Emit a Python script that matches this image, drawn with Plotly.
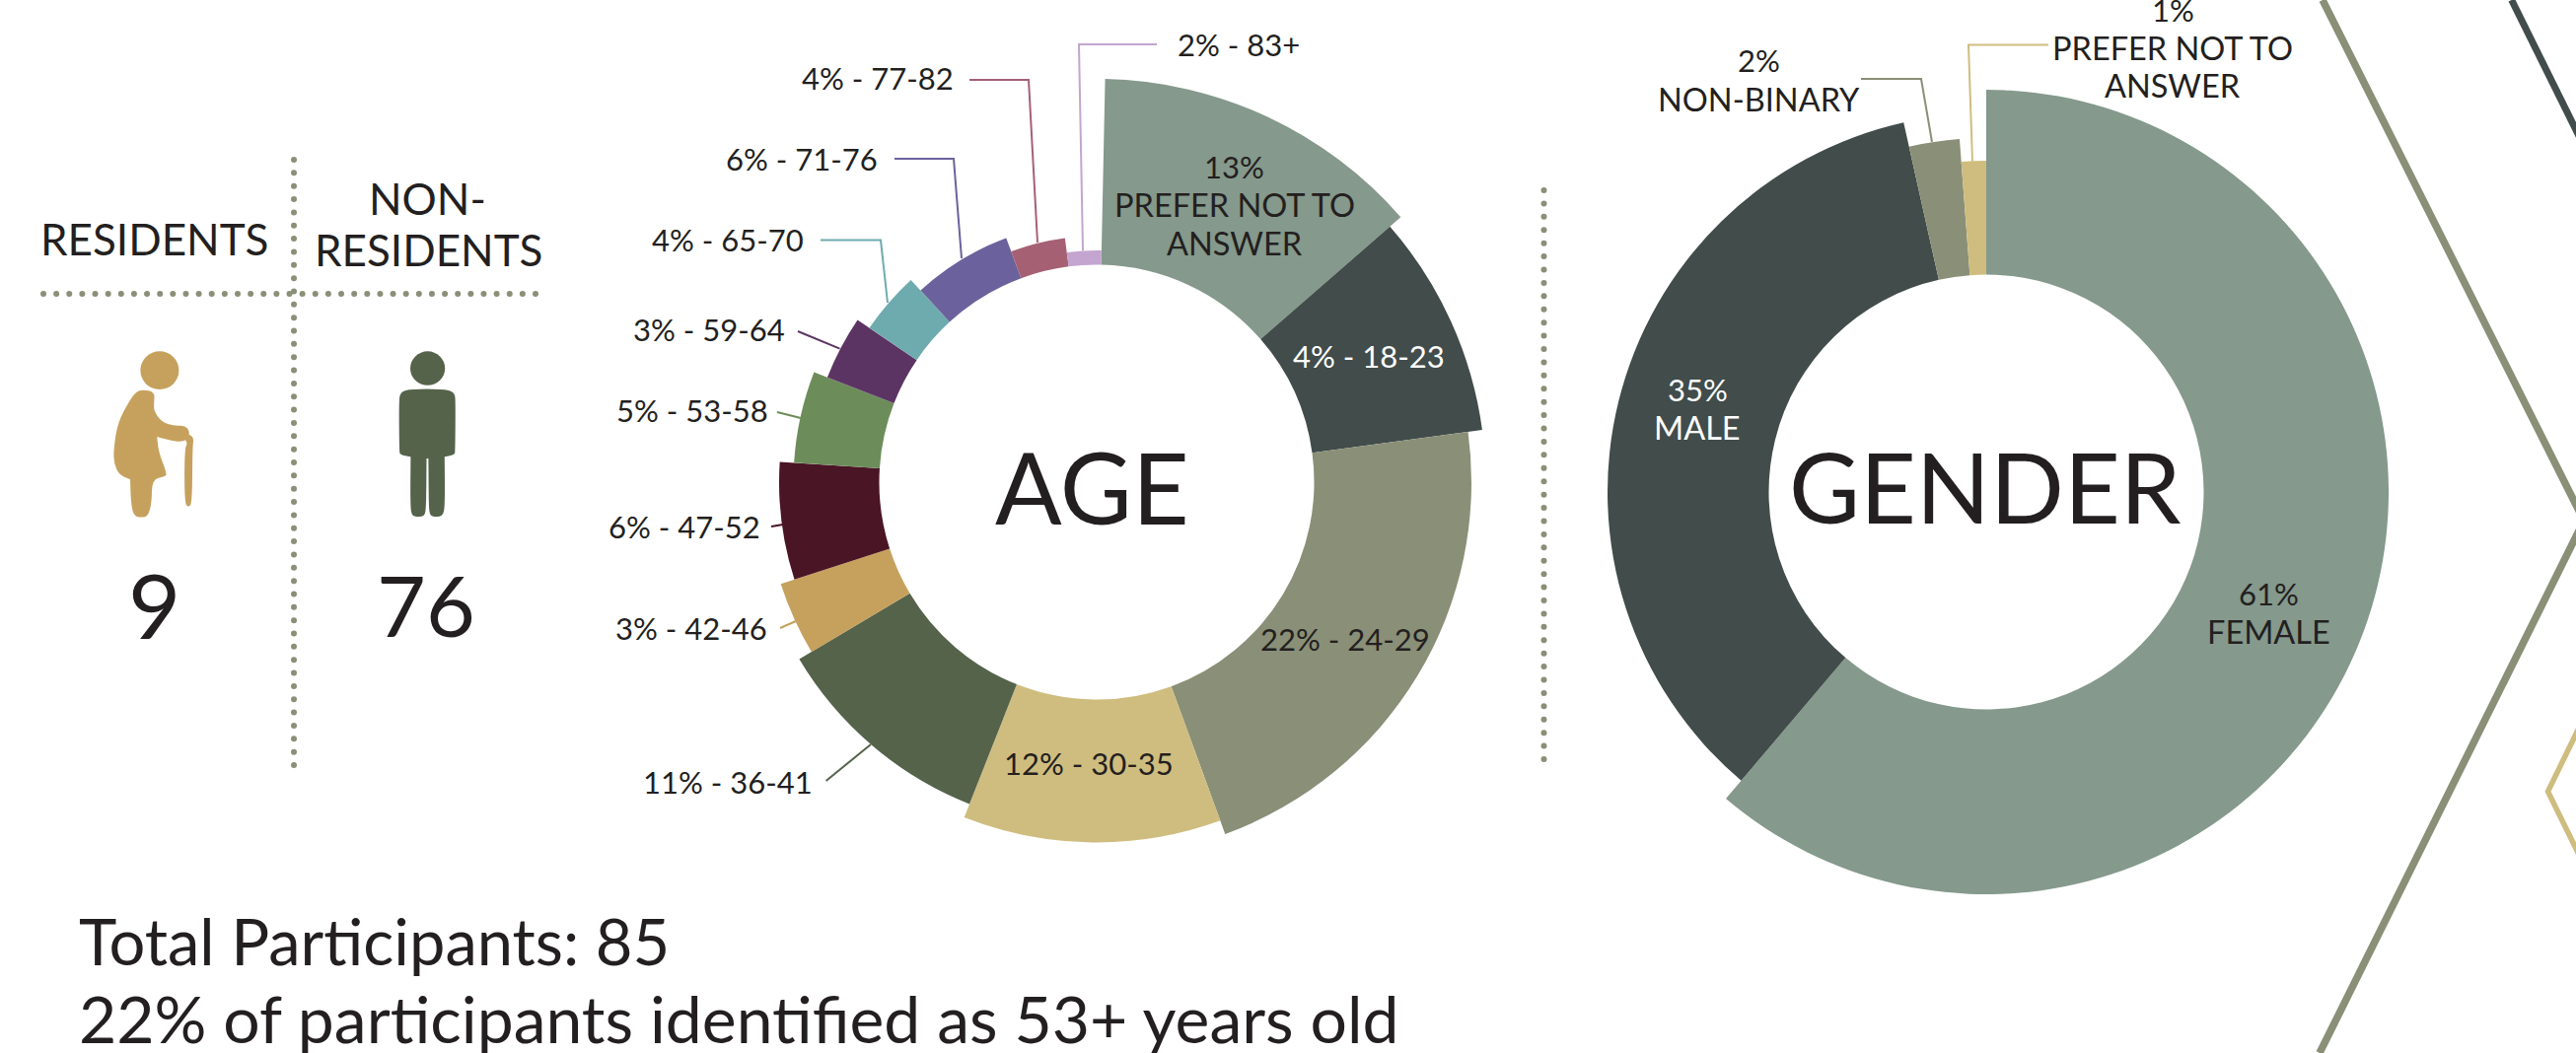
import math
import plotly.graph_objects as go

# ---------- data ----------
age_groups = ["PREFER NOT TO ANSWER", "18-23", "24-29", "30-35", "36-41", "42-46", "47-52",
              "53-58", "59-64", "65-70", "71-76", "77-82", "83+"]
age_pct_labels = [13, 4, 22, 12, 11, 3, 6, 5, 3, 4, 6, 4, 2]
age_shares = [13.3, 9.3, 21.65, 11.6, 10.5, 3.6, 6.0, 4.9, 3.6, 3.7, 6.2, 3.6, 2.4]

gender_groups = ["FEMALE", "MALE", "NON-BINARY", "PREFER NOT TO ANSWER"]
gender_pct_labels = [61, 35, 2, 1]
gender_shares = [61.2, 35.3, 2.3, 1.2]

resident_groups = ["RESIDENTS", "NON-RESIDENTS"]
resident_counts = [9, 76]
total_participants = 85
older_share = 22

# ---------- style and layout ----------
W, H = 2612, 1068
FONT = "Lato"
INK = "#231f20"
OLIVE = "#8a8f77"
DARK = "#414c4b"
age_colors = ["#85998c", "#414c4b", "#8a8f77", "#cfbd7f", "#55634b", "#c6a15d", "#4a1525",
              "#6c8d5a", "#5c3463", "#6eabae", "#6b629d", "#a66074", "#c3a5d0"]
gender_colors = ["#85998c", "#414c4b", "#8a8f77", "#cfbd7f"]
age_outer = [409 - 14.5 * i for i in range(len(age_groups))]
gender_outer = [408, 384, 359, 336]
HOLE = 220.5
R_AXIS = 430
AGE_C = (1112, 489)
GEN_C = (2014, 499)
AGE_START = 1.2
NUM = 31
CAPS = 32.5


def wedge(shares, outer, colors):
    total = sum(shares)
    spans = [s / total * 360 for s in shares]
    mids, acc = [], 0
    for sp in spans:
        mids.append(acc + sp / 2)
        acc += sp
    return dict(r=[o - HOLE for o in outer], base=[HOLE] * len(outer), theta=mids, width=spans,
                marker=dict(color=colors, line=dict(width=0)), hoverinfo="skip", showlegend=False)


fig = go.Figure()
fig.add_trace(go.Barpolar(subplot="polar", **wedge(age_shares, age_outer, age_colors)))
fig.add_trace(go.Barpolar(subplot="polar2", **wedge(gender_shares, gender_outer, gender_colors)))


def line(xs, ys, color, width):
    fig.add_trace(go.Scatter(x=xs, y=ys, mode="lines", line=dict(color=color, width=width),
                             hoverinfo="skip", showlegend=False, xaxis="x", yaxis="y"))


def dots(x0, y0, x1, y1, step=13.3):
    n = int(round(math.hypot(x1 - x0, y1 - y0) / step))
    xs = [x0 + (x1 - x0) * i / n for i in range(n + 1)]
    ys = [y0 + (y1 - y0) * i / n for i in range(n + 1)]
    fig.add_trace(go.Scatter(x=xs, y=ys, mode="markers",
                             marker=dict(color=OLIVE, size=6, line=dict(width=0)),
                             hoverinfo="skip", showlegend=False, xaxis="x", yaxis="y"))


# dotted dividers
dots(298, 162, 298, 776)
dots(44, 298, 543, 298)
dots(1565.5, 193, 1565.5, 770)

# chevrons at right
line([2355, 2620, 2352], [0, 528, 1068], OLIVE, 7.5)
line([2546.7, 2620], [0, 148], DARK, 7)
line([2620, 2583.5, 2620], [728, 802.7, 877], age_colors[3], 5.5)

# leader lines
age_leaders = {
    12: ([1173, 1094, 1098], [45, 45, 254]),
    11: ([983, 1043, 1052], [81, 81, 246]),
    10: ([907, 967, 975], [161, 161, 262]),
    9: ([832, 893, 900], [243.6, 243.6, 307]),
    8: ([809, 851.5], [336, 353.6]),
    7: ([788, 812], [418, 424]),
    6: ([782, 794], [534, 532]),
    5: ([791, 807], [637, 630]),
    4: ([837.6, 883], [792, 755]),
}
for i, (xs, ys) in age_leaders.items():
    line(xs, ys, age_colors[i], 2)
line([2077, 1996, 2000], [45.6, 45.6, 163.5], gender_colors[3], 2)
line([1887, 1948, 1959], [80, 80, 144], gender_colors[2], 2)

ann = []


def text(x, y, s, size=NUM, color=INK, anchor="center"):
    ann.append(dict(x=x, y=y, xref="x", yref="y", text=s, showarrow=False, xanchor=anchor,
                    yanchor="middle", font=dict(family=FONT, size=size, color=color)))


def age_text(i):
    return f"{age_pct_labels[i]}% - {age_groups[i]}"


text(1251.5, 169, f"{age_pct_labels[0]}%")
text(1251.5, 207, "PREFER NOT TO", size=CAPS)
text(1251.5, 246, "ANSWER", size=CAPS)
age_pos = {1: (1388, 361, "#ffffff"), 2: (1364, 648, INK), 3: (1104, 774, INK), 4: (738, 793, INK),
           5: (701, 637, INK), 6: (694, 534, INK), 7: (702, 416, INK), 8: (719, 334, INK),
           9: (737.6, 243, INK), 10: (813, 161, INK), 11: (890, 78.6, INK), 12: (1256, 45, INK)}
for i, (x, y, c) in age_pos.items():
    text(x, y, age_text(i), color=c)

text(2300, 602, f"{gender_pct_labels[0]}%")
text(2300, 640, gender_groups[0], size=CAPS)
text(1721, 395, f"{gender_pct_labels[1]}%", color="#ffffff")
text(1721, 433, gender_groups[1], color="#ffffff", size=CAPS)
text(1783.5, 61, f"{gender_pct_labels[2]}%")
text(1783.5, 100, gender_groups[2], size=CAPS)
text(2203, 10, f"{gender_pct_labels[3]}%")
text(2203, 48, "PREFER NOT TO", size=CAPS)
text(2203, 86.5, "ANSWER", size=CAPS)

text(AGE_C[0] - 5, AGE_C[1] + 4, "AGE", size=100)
text(GEN_C[0] - 1, 493, "GENDER", size=98.5)

text(156, 242, resident_groups[0], size=44)
text(433.5, 201, "NON-", size=44)
text(434, 253, "RESIDENTS", size=44)
text(156, 612, str(resident_counts[0]), size=92)
text(432, 612, str(resident_counts[1]), size=86)

text(78, 954, f"Total Participants: {total_participants}", size=65, anchor="left")
text(78, 1032, f"{older_share}% of participants identified as 53+ years old", size=66, anchor="left")


# icons, outlined in crop coordinates of the left panel
def zx(v):
    return v / 2.613


def zy(v):
    return 140 + v / 2.376


def smooth(pts):
    p = [(zx(a), zy(b)) for a, b in pts]
    n = len(p)
    mid = lambda a, b: ((a[0] + b[0]) / 2, (a[1] + b[1]) / 2)
    s = mid(p[-1], p[0])
    d = f"M{s[0]:.1f},{s[1]:.1f}"
    for i in range(n):
        m = mid(p[i], p[(i + 1) % n])
        d += f" Q{p[i][0]:.1f},{p[i][1]:.1f} {m[0]:.1f},{m[1]:.1f}"
    return d + " Z"


GOLD, GREEN = age_colors[5], age_colors[4]
shapes = []


def path(d, c):
    shapes.append(dict(type="path", path=d, xref="x", yref="y", fillcolor=c, line=dict(width=0)))


def ell(x0, y0, x1, y1, c):
    shapes.append(dict(type="circle", xref="x", yref="y", x0=zx(x0), x1=zx(x1), y0=zy(y0), y1=zy(y1),
                       fillcolor=c, line=dict(width=0)))


ell(372, 514, 474, 606, GOLD)
path(smooth([(378, 606), (410, 612), (408, 640), (408, 658), (428, 684), (462, 694), (490, 692),
             (502, 706), (500, 722), (486, 732), (455, 730), (416, 720), (416, 720), (420, 755),
             (442, 808), (438, 816), (403, 822), (402, 880), (392, 912), (375, 914), (355, 912),
             (347, 880), (345, 822), (345, 822), (316, 812), (302, 785), (301, 750), (312, 685),
             (345, 630), (360, 612)]), GOLD)
path(smooth([(490, 728), (498, 712), (514, 722), (510, 745), (509, 880), (499, 890), (489, 880),
             (489, 750), (497, 735)]), GOLD)
ell(1087, 514, 1179, 596, GREEN)
path(smooth([(1090, 605), (1172, 605), (1205, 612), (1207, 640), (1206, 755), (1204, 763), (1178, 768),
             (1178, 768), (1179, 890), (1172, 911), (1156, 913), (1140, 911), (1136, 890), (1135, 772),
             (1135, 772), (1130, 772), (1130, 772), (1129, 890), (1125, 911), (1108, 913), (1092, 911),
             (1087, 890), (1088, 768), (1088, 768), (1060, 763), (1058, 755), (1057, 640), (1060, 612)]), GREEN)

fig.update_layout(
    width=W, height=H, margin=dict(l=0, r=0, t=0, b=0), autosize=False,
    paper_bgcolor="white", plot_bgcolor="rgba(0,0,0,0)", showlegend=False,
    xaxis=dict(range=[0, W], domain=[0, 1], visible=False, fixedrange=True),
    yaxis=dict(range=[H, 0], domain=[0, 1], visible=False, fixedrange=True),
    annotations=ann, shapes=shapes,
)


def polar(c, start=0):
    return dict(
        domain=dict(x=[(c[0] - R_AXIS) / W, (c[0] + R_AXIS) / W],
                    y=[1 - (c[1] + R_AXIS) / H, 1 - (c[1] - R_AXIS) / H]),
        bgcolor="rgba(0,0,0,0)", bargap=0, hole=0,
        radialaxis=dict(range=[0, R_AXIS], visible=False),
        angularaxis=dict(rotation=90 - start, direction="clockwise", visible=False),
    )


fig.update_layout(polar=polar(AGE_C, AGE_START), polar2=polar(GEN_C))

fig.write_html("out.html", config=dict(displayModeBar=False),
               post_script="document.body.style.margin='0';")
